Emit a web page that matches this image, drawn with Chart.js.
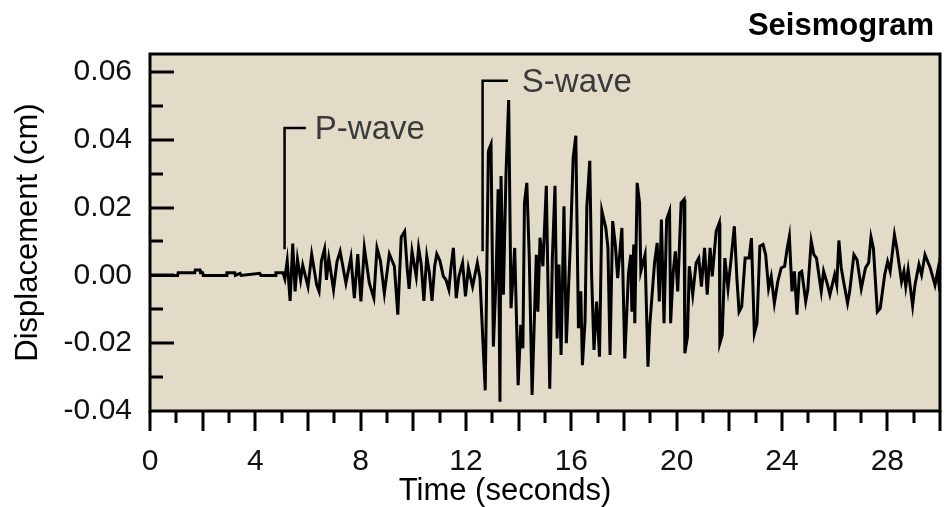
<!DOCTYPE html>
<html>
<head>
<meta charset="utf-8">
<script src="https://cdn.jsdelivr.net/npm/chart.js@4.4.1/dist/chart.umd.min.js"></script>
<style>
  body { margin: 0; background: #fff; }
  #wrap { width: 949px; height: 507px; position: relative; }
</style>
</head>
<body>
<div id="wrap"><canvas id="seismo"></canvas></div>
<script>
// Seismogram trace (time in s, displacement in cm)
const seismoTime = [
  0, 1.05, 1.07, 1.7, 1.72, 1.9, 1.92, 2.0, 2.02, 2.9, 2.92, 3.22, 3.24, 3.42, 3.46, 4.17, 4.21, 4.75, 4.78, 5.05,
  5.12, 5.21, 5.32, 5.42, 5.51, 5.60, 5.72, 5.80, 6.00, 6.14, 6.33, 6.42, 6.51, 6.63, 6.70, 6.79, 6.97, 7.10, 7.22, 7.44,
  7.63, 7.76, 7.89, 8.01, 8.14, 8.33, 8.50, 8.62, 8.75, 8.90, 9.09, 9.28, 9.41, 9.54, 9.67, 9.77, 9.84, 9.95, 10.11, 10.20,
  10.30, 10.40, 10.51, 10.61, 10.71, 10.81, 10.89, 11.01, 11.14, 11.24, 11.35, 11.42, 11.52, 11.63, 11.73, 11.87, 11.98, 12.09, 12.25, 12.43,
  12.53, 12.73, 12.85, 12.95, 13.04, 13.14, 13.22, 13.29, 13.33, 13.42, 13.52, 13.62, 13.71, 13.85, 13.98, 14.08, 14.16, 14.22, 14.31, 14.40,
  14.51, 14.67, 14.73, 14.81, 14.92, 15.05, 15.18, 15.28, 15.38, 15.46, 15.53, 15.61, 15.72, 15.81, 15.98, 16.07, 16.17, 16.27, 16.36, 16.42,
  16.52, 16.59, 16.70, 16.77, 16.86, 16.96, 17.07, 17.16, 17.31, 17.39, 17.47, 17.57, 17.67, 17.76, 17.92, 18.03, 18.17, 18.26, 18.30, 18.37,
  18.41, 18.50, 18.59, 18.64, 18.80, 18.91, 18.98, 19.16, 19.26, 19.34, 19.42, 19.52, 19.62, 19.73, 19.77, 19.87, 19.95, 20.04, 20.17, 20.28,
  20.31, 20.41, 20.48, 20.61, 20.74, 20.84, 20.94, 21.06, 21.16, 21.27, 21.35, 21.50, 21.62, 21.64, 21.73, 21.83, 21.95, 22.07, 22.19, 22.29,
  22.37, 22.47, 22.60, 22.75, 22.84, 22.95, 23.05, 23.16, 23.28, 23.38, 23.49, 23.59, 23.71, 23.84, 23.97, 24.10, 24.20, 24.28, 24.38, 24.47,
  24.57, 24.66, 24.75, 24.90, 24.98, 25.11, 25.21, 25.31, 25.49, 25.58, 25.73, 25.82, 26.00, 26.08, 26.16, 26.25, 26.35, 26.49, 26.57, 26.73,
  26.85, 27.01, 27.17, 27.29, 27.38, 27.47, 27.62, 27.73, 27.90, 28.01, 28.11, 28.27, 28.36, 28.54, 28.63, 28.70, 28.79, 28.96, 29.05, 29.20,
  29.30, 29.43, 29.63, 29.81, 29.91, 29.99, 30.0
];
const seismoDisp = [
  0, 0, 0.0008, 0.0008, 0.0016, 0.0016, 0.0008, 0.0008, 0, 0, 0.0008, 0.0008, 0, 0.0006, 0, 0.0006, 0, 0, 0.0008, 0.0008,
  -0.0010, 0.0043, -0.0075, 0.0094, -0.0047, 0.0047, -0.0013, 0.0030, -0.0033, 0.0062, -0.0028, -0.0047, 0.0043, 0.0078, -0.0013, 0.0050, -0.0042, 0.0040, 0.0071, -0.0023,
  0.0053, -0.0067, 0.0063, -0.0077, 0.0081, -0.0023, -0.0067, 0.0081, 0.0043, -0.0053, 0.0063, 0.0027, -0.0116, 0.0113, 0.0130, 0.0017, -0.0040, 0.0071, -0.0003, 0.0081,
  0.0032, -0.0075, 0.0056, 0.0007, -0.0075, 0.0027, 0.0063, 0.0043, -0.0003, -0.0013, -0.0042, 0.0017, 0.0081, -0.0067, -0.0003, 0.0037, -0.0062, 0.0022, -0.0033, 0.0037,
  -0.0008, -0.0339, 0.0367, 0.0387, -0.0210, -0.0008, 0.0254, -0.0373, 0.0293, -0.0057, 0.0303, 0.0517, -0.0097, 0.0081, -0.0324, -0.0146, -0.0215, 0.0214, 0.0273, 0.0061,
  -0.0353, 0.0061, -0.0107, 0.0111, 0.0027, 0.0264, -0.0334, 0.0051, 0.0264, -0.0186, 0.0032, -0.0235, 0.0204, -0.0200, 0.0130, 0.0347, 0.0412, -0.0156, -0.0047, -0.0265,
  -0.0136, 0.0204, 0.0338, 0.0002, -0.0220, -0.0077, -0.0240, 0.0190, 0.0140, 0.0081, -0.0235, 0.0160, 0.0091, -0.0008, 0.0140, -0.0245, 0.0007, 0.0061, -0.0107, 0.0091,
  -0.0141, 0.0273, 0.0214, 0.0012, 0.0061, -0.0269, -0.0146, 0.0037, 0.0096, -0.0077, 0.0165, -0.0141, 0.0165, 0.0190, -0.0141, 0.0012, 0.0071, -0.0047, 0.0214, 0.0224,
  -0.0230, -0.0181, 0.0027, -0.0057, 0.0037, 0.0051, -0.0033, 0.0081, -0.0057, 0.0081, -0.0003, 0.0130, 0.0155, -0.0200, -0.0176, 0.0051, -0.0038, 0.0051, 0.0145, -0.0013,
  -0.0107, -0.0092, 0.0051, 0.0051, 0.0110, -0.0171, -0.0141, 0.0086, 0.0091, 0.0061, -0.0038, -0.0003, -0.0082, -0.0018, 0.0022, 0.0027, 0.0081, 0.0115, -0.0047, 0.0012,
  -0.0116, 0.0007, 0.0012, -0.0077, -0.0042, 0.0101, 0.0061, 0.0051, -0.0047, 0.0012, -0.0028, -0.0057, 0.0002, -0.0028, 0.0103, 0.0022, -0.0023, -0.0082, -0.0047, 0.0061,
  0.0046, -0.0039, 0.0022, 0.0037, 0.0113, 0.0081, -0.0107, -0.0097, 0.0002, 0.0041, 0.0012, 0.0120, 0.0081, -0.0018, 0.0012, -0.0033, 0.0017, -0.0089, -0.0028, 0.0032,
  0.0002, 0.0061, 0.0022, -0.0028, 0.0012, -0.0047, 0.0051
];

// Axis ticks
const xTickLabels = [0, 4, 8, 12, 16, 20, 24, 28];
const yTickLabels = [-0.04, -0.02, 0.00, 0.02, 0.04, 0.06];

// Wave arrival markers: time of the line, its bottom and top, end of the elbow, label start
const waveMarkers = [
  { label: 'P-wave', t: 5.11, from: 0.0077, to: 0.0435, elbow: 5.92, textAt: 6.26 },
  { label: 'S-wave', t: 12.63, from: 0.0071, to: 0.0574, elbow: 13.59, textAt: 14.12 }
];

const FONT = '"Liberation Sans", Arial, sans-serif';
const PLOT_BG = '#e2dbc8';

const seismoPlugin = {
  id: 'seismoDecor',
  beforeDraw(chart) {
    const { ctx, chartArea: a } = chart;
    ctx.save();
    ctx.fillStyle = PLOT_BG;
    ctx.fillRect(a.left, a.top, a.right - a.left, a.bottom - a.top);
    ctx.restore();
  },
  afterDraw(chart) {
    const { ctx, chartArea: a } = chart;
    const xs = chart.scales.x, ys = chart.scales.y;
    ctx.save();
    ctx.strokeStyle = '#000';
    ctx.lineWidth = 3;
    ctx.lineCap = 'butt';
    ctx.strokeRect(a.left, a.top, a.right - a.left, a.bottom - a.top);

    // x ticks, every second, long ones every 2 s
    ctx.beginPath();
    for (let s = 0; s <= 30; s++) {
      const px = Math.round(xs.getPixelForValue(s));
      ctx.moveTo(px, a.bottom);
      ctx.lineTo(px, a.bottom + (s % 2 === 0 ? 20 : 12));
    }
    // y ticks inside the plot, every 0.01
    for (let k = -3; k <= 6; k++) {
      const py = Math.round(ys.getPixelForValue(k / 100));
      ctx.moveTo(a.left, py);
      ctx.lineTo(a.left + (k % 2 === 0 ? 24 : 13), py);
    }
    ctx.stroke();

    // arrival markers
    ctx.lineWidth = 2.5;
    ctx.font = '33px ' + FONT;
    ctx.fillStyle = '#3a3a3a';
    ctx.textBaseline = 'middle';
    ctx.textAlign = 'left';
    waveMarkers.forEach(m => {
      const x0 = xs.getPixelForValue(m.t);
      const y0 = ys.getPixelForValue(m.from);
      const y1 = ys.getPixelForValue(m.to);
      const x1 = xs.getPixelForValue(m.elbow);
      ctx.beginPath();
      ctx.moveTo(x0, y0);
      ctx.lineTo(x0, y1);
      ctx.lineTo(x1, y1);
      ctx.stroke();
      ctx.fillText(m.label, xs.getPixelForValue(m.textAt), y1 + 2);
    });

    // chart title and x-axis title
    ctx.fillStyle = '#000';
    ctx.textBaseline = 'alphabetic';
    ctx.textAlign = 'right';
    ctx.font = 'bold 31px ' + FONT;
    ctx.fillText('Seismogram', 934, 35);
    ctx.textAlign = 'center';
    ctx.font = '31px ' + FONT;
    ctx.fillText('Time (seconds)', 505, 500);
    ctx.restore();
  }
};

new Chart(document.getElementById('seismo'), {
  type: 'line',
  data: {
    datasets: [{
      data: seismoTime.map((t, i) => ({ x: t, y: seismoDisp[i] })),
      borderColor: '#000',
      borderWidth: 3,
      pointRadius: 0,
      tension: 0,
      fill: false
    }]
  },
  options: {
    responsive: true,
    maintainAspectRatio: false,
    animation: false,
    layout: { padding: { top: 54, right: 9, left: 0, bottom: 0 } },
    plugins: {
      legend: { display: false },
      title: { display: false },
      tooltip: { enabled: false }
    },
    scales: {
      x: {
        type: 'linear',
        min: 0,
        max: 30,
        grid: { display: false },
        border: { display: false },
        afterFit: s => { s.height = 96; },
        afterBuildTicks: s => { s.ticks = xTickLabels.map(v => ({ value: v })); },
        ticks: {
          autoSkip: false,
          maxRotation: 0,
          padding: 25,
          color: '#111',
          font: { family: FONT, size: 30 },
          callback: v => String(v)
        }
      },
      y: {
        min: -0.04,
        max: 0.0653,
        grid: { display: false },
        border: { display: false },
        afterFit: s => { s.width = 150; },
        afterBuildTicks: s => { s.ticks = yTickLabels.map(v => ({ value: v })); },
        ticks: {
          padding: 10,
          color: '#111',
          font: { family: FONT, size: 30 },
          callback: v => v.toFixed(2)
        },
        title: {
          display: true,
          text: 'Displacement (cm)',
          color: '#000',
          font: { family: FONT, size: 31 },
          padding: { top: 10, bottom: 0 }
        }
      }
    }
  },
  plugins: [seismoPlugin]
});
</script>
</body>
</html>
